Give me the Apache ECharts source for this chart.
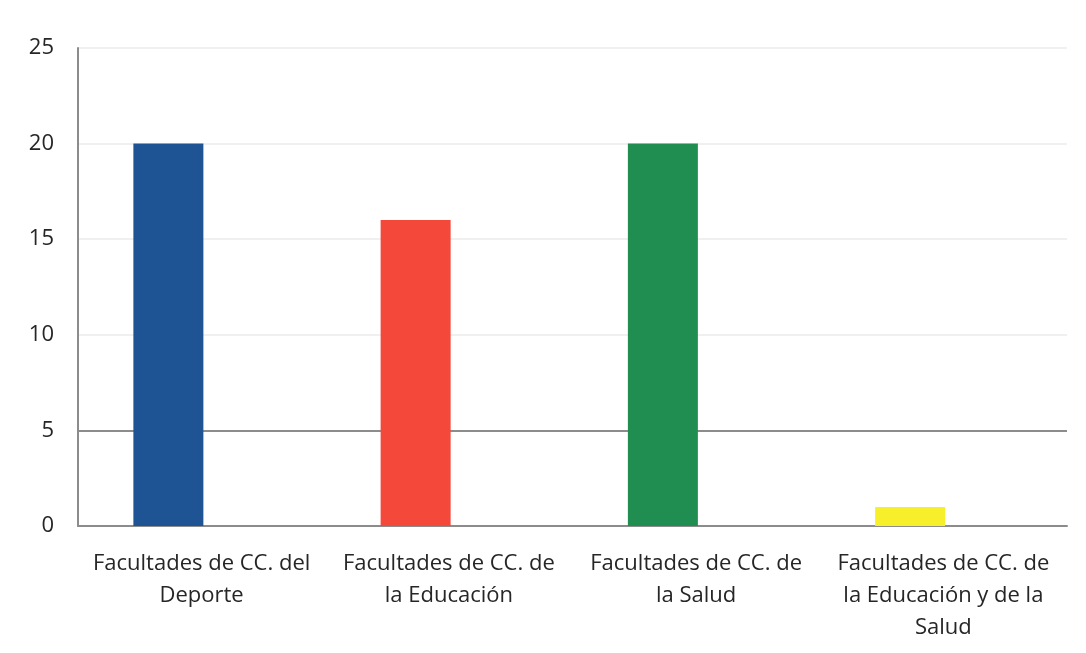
<!DOCTYPE html>
<html><head><meta charset="utf-8">
<script src="https://cdn.jsdelivr.net/npm/echarts@6/dist/echarts.min.js"></script>
<style>html,body{margin:0;padding:0;background:#fff}#c{width:1086px;height:653px}</style>
</head><body><div id="c"></div>
<script>
var categories = [
  "Facultades de CC. del\nDeporte",
  "Facultades de CC. de\nla Educación",
  "Facultades de CC. de\nla Salud",
  "Facultades de CC. de\nla Educación y de la\nSalud"
];
var values = [20, 16, 20, 1];
var barColors = ["#1e5494", "#f3483a", "#1f8e50", "#f6ef2a"];
var yTicks = [0, 5, 10, 15, 20, 25];

var chart = echarts.init(document.getElementById('c'));
chart.setOption({
  backgroundColor: '#ffffff',
  animation: false,
  grid: { left: 78, right: 19, top: 48, bottom: 127, containLabel: false },
  xAxis: {
    type: 'category',
    data: categories,
    axisLine: { show: true, lineStyle: { color: '#8c8c8c', width: 2 } },
    axisTick: { show: false },
    axisLabel: {
      interval: 0, color: '#262626', fontSize: 22, lineHeight: 32,
      fontFamily: '"Open Sans", sans-serif', margin: 22
    }
  },
  yAxis: {
    type: 'value', min: 0, max: 25, interval: 5,
    axisLine: { show: true, lineStyle: { color: '#8c8c8c', width: 2 } },
    axisTick: { show: false },
    axisLabel: {
      color: '#262626', fontSize: 22, margin: 24,
      fontFamily: '"Open Sans", sans-serif',
      formatter: function (v) { return yTicks.indexOf(v) >= 0 ? String(v) : ''; }
    },
    splitLine: { show: true, lineStyle: { color: ['#8c8c8c', '#8c8c8c', '#f0f0f0', '#f0f0f0', '#f0f0f0', '#f0f0f0'], width: 2 } }
  },
  series: [
    {
      type: 'bar', barWidth: 70, barGap: '-5%',
      data: values.map(function (v, i) { return { value: v, itemStyle: { color: barColors[i] } }; })
    },
    {
      type: 'bar', barWidth: 70,
      data: values.map(function () { return '-'; })
    }
  ]
});
</script>
</body></html>
